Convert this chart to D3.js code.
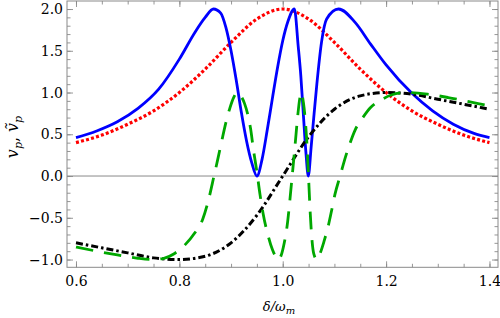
<!DOCTYPE html>
<html lang="en">
  <head>
    <meta charset="utf-8" />
    <title>Probe response</title>
    <style>
      body {
        margin: 0;
        background: #fff;
      }
      svg {
        display: block;
      }
      .frame {
        fill: none;
        stroke: #8a8a8a;
        stroke-width: 1;
      }
      .axis line {
        stroke: #8a8a8a;
        stroke-width: 0.9;
      }
      .axis path {
        display: none;
      }
      .zero {
        stroke: #8a8a8a;
        stroke-width: 1;
      }
      .curve {
        fill: none;
      }
    </style>
  </head>
  <body>
    <svg id="chart" width="500" height="318"></svg>

    <script src="https://cdn.jsdelivr.net/npm/d3@7"></script>
    <script>
      // broad resonance (red dotted / black dot-dashed), sampled every 0.05
      const detuning = [
        0.6, 0.65, 0.7, 0.75, 0.8, 0.85, 0.9, 0.95, 1.0, 1.05, 1.1, 1.15, 1.2,
        1.25, 1.3, 1.35, 1.4,
      ];
      const redValues = [
        0.4, 0.49, 0.62, 0.78, 1.0, 1.28, 1.6, 1.88, 2.0, 1.88, 1.6, 1.28, 1.0,
        0.78, 0.62, 0.49, 0.4,
      ];
      const blackValues = [
        -0.8, -0.86, -0.92, -0.98, -1.0, -0.96, -0.8, -0.47, 0.0, 0.47, 0.8,
        0.96, 1.0, 0.98, 0.92, 0.86, 0.8,
      ];

      // blue solid curve
      const blueX = [
        0.6, 0.64, 0.68, 0.72, 0.76, 0.8, 0.83, 0.85, 0.866, 0.88, 0.89, 0.9,
        0.91, 0.92, 0.93, 0.94, 0.95, 0.96, 0.97, 0.98, 0.99, 1.0, 1.01, 1.0225,
        1.03, 1.035, 1.04, 1.045, 1.0495, 1.055, 1.06, 1.066, 1.075, 1.085,
        1.108, 1.14, 1.17, 1.2, 1.25, 1.29, 1.33, 1.37, 1.4,
      ];
      const blueValues = [
        0.46, 0.54, 0.65, 0.81, 1.04, 1.4, 1.72, 1.9, 2.0, 1.95, 1.78, 1.5,
        1.15, 0.76, 0.42, 0.16, 0.0, 0.2, 0.55, 0.93, 1.3, 1.62, 1.85, 2.0, 1.55,
        1.2, 0.73, 0.27, 0.0, 0.35, 0.7, 1.1, 1.6, 1.88, 2.0, 1.84, 1.58, 1.33,
        0.99, 0.78, 0.62, 0.51, 0.46,
      ];

      // green dashed curve
      const greenX = [
        0.6, 0.64, 0.68, 0.72, 0.75, 0.77, 0.79, 0.81, 0.83, 0.845, 0.855, 0.867,
        0.875, 0.882, 0.89, 0.898, 0.905, 0.912, 0.92, 0.926, 0.933, 0.938,
        0.943, 0.95, 0.956, 0.962, 0.972, 0.98, 0.986, 0.991, 0.997, 1.003,
        1.008, 1.0175, 1.024, 1.029, 1.033, 1.036, 1.04, 1.0435, 1.0465, 1.05,
        1.053, 1.056, 1.06, 1.066, 1.072, 1.08, 1.088, 1.095, 1.101, 1.111, 1.12,
        1.13, 1.14, 1.155, 1.17, 1.19, 1.21, 1.24, 1.28, 1.32, 1.36, 1.4,
      ];
      const greenValues = [
        -0.85, -0.9, -0.945, -0.985, -1.0, -0.985, -0.93, -0.83, -0.68, -0.52,
        -0.32, 0.0, 0.22, 0.42, 0.64, 0.82, 0.94, 1.0, 0.95, 0.87, 0.72, 0.56,
        0.33, 0.05, -0.22, -0.45, -0.72, -0.88, -0.96, -1.0, -0.95, -0.8, -0.62,
        -0.05, 0.38, 0.72, 0.93, 1.0, 0.88, 0.68, 0.42, -0.02, -0.42, -0.72,
        -0.93, -1.0, -0.93, -0.78, -0.6, -0.4, -0.22, 0.0, 0.2, 0.39, 0.55, 0.7,
        0.82, 0.91, 0.97, 1.0, 0.98, 0.94, 0.89, 0.84,
      ];

      const xMajor = [0.6, 0.8, 1.0, 1.2, 1.4];
      const yMajor = [-1.0, -0.5, 0.0, 0.5, 1.0, 1.5, 2.0];

      // Liberation Serif is not picked up here, DejaVu Serif is the real serif face
      const SERIF = '"DejaVu Serif", serif';

      const plotLeft = 67,
        plotRight = 498,
        plotTop = 1,
        plotBottom = 267.3;

      const svg = d3.select("#chart");

      const x = d3.scaleLinear().domain([0.5826, 1.4165]).range([plotLeft, plotRight]);
      const y = d3.scaleLinear().domain([-1.093, 2.096]).range([plotBottom, plotTop]);

      const xMinor = d3.range(0.6, 1.4001, 0.05);
      const yMinor = d3.range(-1.0, 2.0001, 0.1);
      const fmt = (v) => d3.format(".1f")(v).replace("-", "\u2212");

      svg
        .append("defs")
        .append("clipPath")
        .attr("id", "plot")
        .append("rect")
        .attr("x", plotLeft)
        .attr("y", plotTop)
        .attr("width", plotRight - plotLeft)
        .attr("height", plotBottom - plotTop);

      // zero line
      svg
        .append("line")
        .attr("class", "zero")
        .attr("x1", plotLeft)
        .attr("x2", plotRight)
        .attr("y1", y(0))
        .attr("y2", y(0));

      // ticks: minor then major, on all four sides
      function addAxis(axis, tx, ty) {
        const g = svg
          .append("g")
          .attr("class", "axis")
          .attr("transform", `translate(${tx},${ty})`)
          .call(axis);
        g.attr("font-family", null).attr("font-size", null);
        g.selectAll("text")
          .style("font-family", SERIF)
          .style("font-size", "14px")
          .attr("fill", "#000");
      }
      addAxis(d3.axisBottom(x).tickValues(xMinor).tickSize(-3.5).tickFormat(""), 0, plotBottom);
      addAxis(d3.axisTop(x).tickValues(xMinor).tickSize(-3.5).tickFormat(""), 0, plotTop);
      addAxis(d3.axisLeft(y).tickValues(yMinor).tickSize(-3.5).tickFormat(""), plotLeft, 0);
      addAxis(d3.axisRight(y).tickValues(yMinor).tickSize(-3.5).tickFormat(""), plotRight, 0);
      addAxis(d3.axisBottom(x).tickValues(xMajor).tickSize(-6).tickPadding(9).tickFormat(fmt), 0, plotBottom);
      addAxis(d3.axisTop(x).tickValues(xMajor).tickSize(-6).tickFormat(""), 0, plotTop);
      addAxis(d3.axisLeft(y).tickValues(yMajor).tickSize(-6).tickPadding(4).tickFormat(fmt), plotLeft, 0);
      addAxis(d3.axisRight(y).tickValues(yMajor).tickSize(-6).tickFormat(""), plotRight, 0);

      svg
        .append("rect")
        .attr("class", "frame")
        .attr("x", plotLeft)
        .attr("y", plotTop)
        .attr("width", plotRight - plotLeft)
        .attr("height", plotBottom - plotTop);

      const line = d3
        .line()
        .x((d) => x(d[0]))
        .y((d) => y(d[1]))
        .curve(d3.curveMonotoneX);

      const series = [
        { xs: detuning, ys: redValues, color: "#ff0000", width: 3.2, dash: "3,2.2" },
        { xs: blueX, ys: blueValues, color: "#0000ff", width: 2.8, dash: null },
        { xs: detuning, ys: blackValues, color: "#000000", width: 3, dash: "7,3,2.5,3" },
        { xs: greenX, ys: greenValues, color: "#00a800", width: 2.8, dash: "17.5,11" },
      ];

      const curves = svg.append("g").attr("clip-path", "url(#plot)");
      series.forEach((s) => {
        curves
          .append("path")
          .attr("class", "curve")
          .attr("d", line(s.xs.map((v, i) => [v, s.ys[i]])))
          .attr("stroke", s.color)
          .attr("stroke-width", s.width)
          .attr("stroke-dasharray", s.dash);
      });

      // axis labels
      const ylab = svg
        .append("text")
        .style("font-family", SERIF)
        .style("font-size", "16px")
        .attr("transform", "translate(18,137) rotate(-90)")
        .attr("text-anchor", "middle");
      ylab.append("tspan").attr("font-style", "italic").text("v");
      ylab.append("tspan").attr("font-style", "italic").style("font-size", "11px").attr("dy", 3.5).text("p");
      ylab.append("tspan").attr("dy", -3.5).text(",");
      ylab.append("tspan").attr("font-style", "italic").attr("dx", 5).text("\u1E7D");
      ylab.append("tspan").attr("font-style", "italic").style("font-size", "11px").attr("dy", 3.5).text("p");

      const xlab = svg
        .append("text")
        .style("font-family", SERIF)
        .style("font-size", "13px")
        .attr("x", 279)
        .attr("y", 311)
        .attr("text-anchor", "middle");
      xlab.append("tspan").attr("font-style", "italic").text("\u03B4/\u03C9");
      xlab.append("tspan").attr("font-style", "italic").style("font-size", "10px").attr("dy", 3).text("m");
    </script>
  </body>
</html>
